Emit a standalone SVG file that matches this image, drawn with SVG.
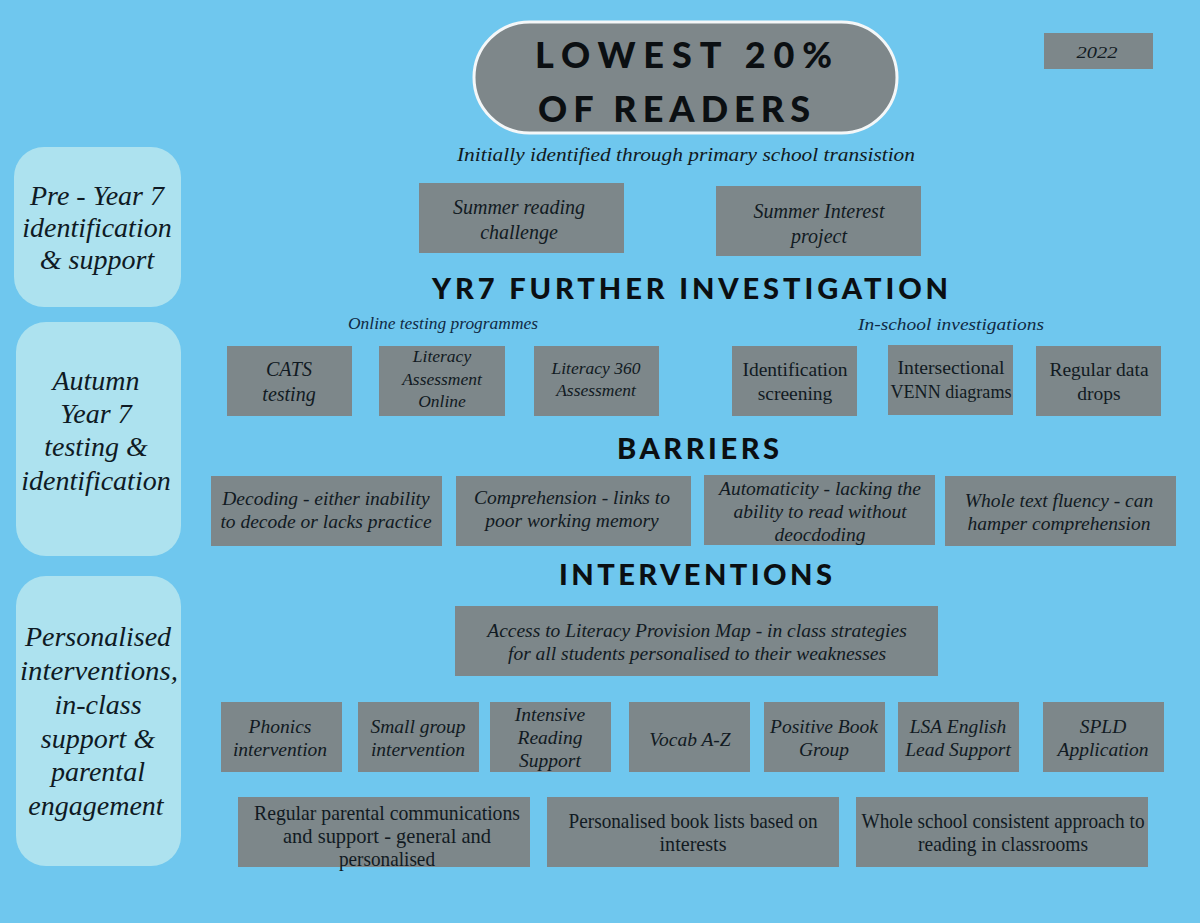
<svg xmlns="http://www.w3.org/2000/svg" width="1200" height="923" viewBox="0 0 1200 923">
<style>
.bg{fill:#6fc7ee}
.box{fill:#7d878a}
.panel{fill:#ade2ef}
.it{font-family:"Liberation Serif","DejaVu Serif",serif;font-style:italic;fill:#111a22;text-anchor:middle}
.up{font-family:"Liberation Serif","DejaVu Serif",serif;fill:#111a22;text-anchor:middle}
.hd{font-family:Lato,"Liberation Sans",sans-serif;font-weight:900;fill:#0b0f12;text-anchor:start}
.s20{font-size:20px}
.s19{font-size:19.5px}
.pn{font-size:28px;fill:#0f1a24}
.sub{font-size:17.5px;fill:#0f2a44}
.cd{font-size:21px}
</style>
<rect class="bg" x="0" y="0" width="1200" height="923"/>

<g id="title">
<rect x="474" y="22" width="423" height="111" rx="55.5" fill="#7e878a" stroke="#f4f7f8" stroke-width="3"/>
<text class="hd" x="535" y="68" font-size="36" textLength="297" lengthAdjust="spacing">LOWEST 20%</text>
<text class="hd" x="538" y="122" font-size="36" textLength="272" lengthAdjust="spacing">OF READERS</text>
</g>

<g id="year">
<rect class="box" x="1044" y="33" width="109" height="36"/>
<text class="it" x="1097" y="58" font-size="17" textLength="41" lengthAdjust="spacingAndGlyphs">2022</text>
</g>

<g id="intro">
<text class="it" x="686" y="161" font-size="19" textLength="458" lengthAdjust="spacingAndGlyphs" fill="#0f2a44">Initially identified through primary school transistion</text>
</g>

<g id="panel-pre">
<rect class="panel" x="14" y="147" width="167" height="160" rx="30"/>
<text class="it pn" x="97" y="205">Pre - Year 7</text>
<text class="it pn" x="97" y="237">identification</text>
<text class="it pn" x="97" y="269">&amp; support</text>
</g>

<g id="panel-autumn">
<rect class="panel" x="16" y="322" width="165" height="234" rx="30"/>
<text class="it pn" x="96" y="390">Autumn</text>
<text class="it pn" x="96" y="423">Year 7</text>
<text class="it pn" x="96" y="456">testing &amp;</text>
<text class="it pn" x="96" y="490">identification</text>
</g>

<g id="panel-personal">
<rect class="panel" x="16" y="576" width="165" height="290" rx="30"/>
<text class="it pn" x="98" y="646">Personalised</text>
<text class="it pn" x="99" y="680" textLength="158" lengthAdjust="spacingAndGlyphs">interventions,</text>
<text class="it pn" x="98" y="714">in-class</text>
<text class="it pn" x="98" y="748">support &amp;</text>
<text class="it pn" x="98" y="781">parental</text>
<text class="it pn" x="96" y="815">engagement</text>
</g>

<g id="summer-reading">
<rect class="box" x="419" y="183" width="205" height="70"/>
<text class="it s20" x="519" y="214">Summer reading</text>
<text class="it s20" x="519" y="239">challenge</text>
</g>
<g id="summer-interest">
<rect class="box" x="716" y="186" width="205" height="70"/>
<text class="it s20" x="819" y="218">Summer Interest</text>
<text class="it s20" x="819" y="243">project</text>
</g>

<g id="heading-yr7">
<text class="hd" x="432" y="299" font-size="29" textLength="516" lengthAdjust="spacing">YR7 FURTHER INVESTIGATION</text>
<text class="it sub" x="443" y="329" textLength="190" lengthAdjust="spacingAndGlyphs">Online testing programmes</text>
<text class="it sub" x="951" y="330" textLength="186" lengthAdjust="spacingAndGlyphs">In-school investigations</text>
</g>

<g id="cats">
<rect class="box" x="227" y="346" width="125" height="70"/>
<text class="it s20" x="289" y="376">CATS</text>
<text class="it s20" x="289" y="401">testing</text>
</g>
<g id="lao">
<rect class="box" x="379" y="346" width="126" height="70"/>
<text class="it" font-size="17.5" x="442" y="362">Literacy</text>
<text class="it" font-size="17.5" x="442" y="385">Assessment</text>
<text class="it" font-size="17.5" x="442" y="407">Online</text>
</g>
<g id="l360">
<rect class="box" x="534" y="346" width="125" height="70"/>
<text class="it" font-size="17.5" x="596" y="374">Literacy 360</text>
<text class="it" font-size="17.5" x="596" y="396">Assessment</text>
</g>
<g id="idscreen">
<rect class="box" x="732" y="346" width="125" height="70"/>
<text class="up" font-size="19.5" x="795" y="376">Identification</text>
<text class="up" font-size="19.5" x="795" y="400">screening</text>
</g>
<g id="venn">
<rect class="box" x="888" y="345" width="125" height="70"/>
<text class="up" font-size="19" x="951" y="374" textLength="107" lengthAdjust="spacingAndGlyphs">Intersectional</text>
<text class="up" font-size="19" x="951" y="398" textLength="121" lengthAdjust="spacingAndGlyphs">VENN diagrams</text>
</g>
<g id="datadrops">
<rect class="box" x="1036" y="346" width="125" height="70"/>
<text class="up" font-size="19.5" x="1099" y="376">Regular data</text>
<text class="up" font-size="19.5" x="1099" y="400">drops</text>
</g>

<g id="heading-barriers">
<text class="hd" x="617" y="459" font-size="29" textLength="162" lengthAdjust="spacing">BARRIERS</text>
</g>

<g id="decoding">
<rect class="box" x="211" y="476" width="231" height="70"/>
<text class="it s19" x="326" y="505">Decoding - either inability</text>
<text class="it s19" x="326" y="528">to decode or lacks practice</text>
</g>
<g id="comprehension">
<rect class="box" x="456" y="476" width="235" height="70"/>
<text class="it s19" x="572" y="504">Comprehension - links to</text>
<text class="it s19" x="572" y="527">poor working memory</text>
</g>
<g id="automaticity">
<rect class="box" x="704" y="475" width="231" height="70"/>
<text class="it s19" x="820" y="495">Automaticity - lacking the</text>
<text class="it s19" x="820" y="518">ability to read without</text>
<text class="it s19" x="820" y="541">deocdoding</text>
</g>
<g id="fluency">
<rect class="box" x="945" y="476" width="231" height="70"/>
<text class="it s19" x="1059" y="507">Whole text fluency - can</text>
<text class="it s19" x="1059" y="530">hamper comprehension</text>
</g>

<g id="heading-interventions">
<text class="hd" x="559" y="585" font-size="29" textLength="273" lengthAdjust="spacing">INTERVENTIONS</text>
</g>

<g id="provision-map">
<rect class="box" x="455" y="606" width="483" height="70"/>
<text class="it s19" x="697" y="637">Access to Literacy Provision Map - in class strategies</text>
<text class="it s19" x="697" y="660">for all students personalised to their weaknesses</text>
</g>

<g id="phonics">
<rect class="box" x="221" y="702" width="121" height="70"/>
<text class="it s19" x="280" y="733">Phonics</text>
<text class="it s19" x="280" y="756">intervention</text>
</g>
<g id="smallgroup">
<rect class="box" x="358" y="702" width="121" height="70"/>
<text class="it s19" x="418" y="733">Small group</text>
<text class="it s19" x="418" y="756">intervention</text>
</g>
<g id="intensive">
<rect class="box" x="490" y="702" width="121" height="70"/>
<text class="it s19" x="550" y="721">Intensive</text>
<text class="it s19" x="550" y="744">Reading</text>
<text class="it s19" x="550" y="767">Support</text>
</g>
<g id="vocab">
<rect class="box" x="629" y="702" width="121" height="70"/>
<text class="it s19" x="690" y="746">Vocab A-Z</text>
</g>
<g id="positivebook">
<rect class="box" x="764" y="702" width="121" height="70"/>
<text class="it s19" x="824" y="733">Positive Book</text>
<text class="it s19" x="824" y="756">Group</text>
</g>
<g id="lsa">
<rect class="box" x="898" y="702" width="121" height="70"/>
<text class="it s19" x="958" y="733">LSA English</text>
<text class="it s19" x="958" y="756">Lead Support</text>
</g>
<g id="spld">
<rect class="box" x="1043" y="702" width="121" height="70"/>
<text class="it s19" x="1103" y="733">SPLD</text>
<text class="it s19" x="1103" y="756">Application</text>
</g>

<g id="parental">
<rect class="box" x="238" y="797" width="292" height="70"/>
<text class="up cd" x="387" y="820" textLength="266" lengthAdjust="spacingAndGlyphs">Regular parental communications</text>
<text class="up cd" x="387" y="843" textLength="208" lengthAdjust="spacingAndGlyphs">and support - general and</text>
<text class="up cd" x="387" y="866" textLength="96" lengthAdjust="spacingAndGlyphs">personalised</text>
</g>
<g id="booklists">
<rect class="box" x="547" y="797" width="292" height="70"/>
<text class="up cd" x="693" y="828" textLength="249" lengthAdjust="spacingAndGlyphs">Personalised book lists based on</text>
<text class="up cd" x="693" y="851" textLength="67" lengthAdjust="spacingAndGlyphs">interests</text>
</g>
<g id="wholeschool">
<rect class="box" x="856" y="797" width="292" height="70"/>
<text class="up cd" x="1003" y="828" textLength="283" lengthAdjust="spacingAndGlyphs">Whole school consistent approach to</text>
<text class="up cd" x="1003" y="851" textLength="170" lengthAdjust="spacingAndGlyphs">reading in classrooms</text>
</g>

<g id="connectors"></g>
</svg>
